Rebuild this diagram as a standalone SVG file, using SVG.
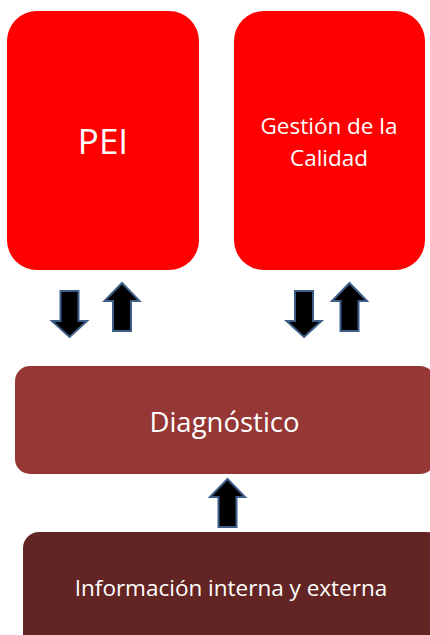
<svg xmlns="http://www.w3.org/2000/svg" width="430" height="635" viewBox="0 0 430 635">
<style>
.lbl{font-family:"Open Sans","Liberation Sans",sans-serif;fill:#ffffff;text-anchor:middle}
.arr{fill:#000000;stroke:#3E5E8A;stroke-width:2;stroke-linejoin:miter}
</style>
<defs>
<path id="up" d="M0,0 L17.5,18 L9,18 L9,48 L-9,48 L-9,18 L-17.5,18 Z"/>
<path id="down" d="M0,0 L17.5,-16 L9,-16 L9,-46 L-9,-46 L-9,-16 L-17.5,-16 Z"/>
</defs>
<rect width="430" height="635" fill="#ffffff"/>
<g id="pei">
<rect x="7" y="11" width="192" height="259" rx="30" fill="#FF0000"/>
<text class="lbl" x="103" y="154" font-size="35">PEI</text>
</g>
<g id="calidad">
<rect x="234" y="11" width="191" height="259" rx="30" fill="#FF0000"/>
<text class="lbl" x="329" y="134" font-size="22.5">Gestión de la</text>
<text class="lbl" x="329" y="166" font-size="22.5">Calidad</text>
</g>
<g id="diagnostico">
<rect x="15" y="366" width="420" height="108" rx="15" fill="#953735"/>
<text class="lbl" x="224.5" y="432" font-size="27.5">Diagnóstico</text>
</g>
<g id="informacion">
<rect x="23" y="532" width="420" height="120" rx="16" fill="#632523"/>
<text class="lbl" x="231" y="596" font-size="22.5">Información interna y externa</text>
</g>
<g id="connectors">
<use href="#down" class="arr" x="69.5" y="337"/>
<use href="#up" class="arr" x="122" y="283"/>
<use href="#down" class="arr" x="304" y="337"/>
<use href="#up" class="arr" x="349.5" y="283"/>
<use href="#up" class="arr" x="227.5" y="479"/>
</g>
</svg>
